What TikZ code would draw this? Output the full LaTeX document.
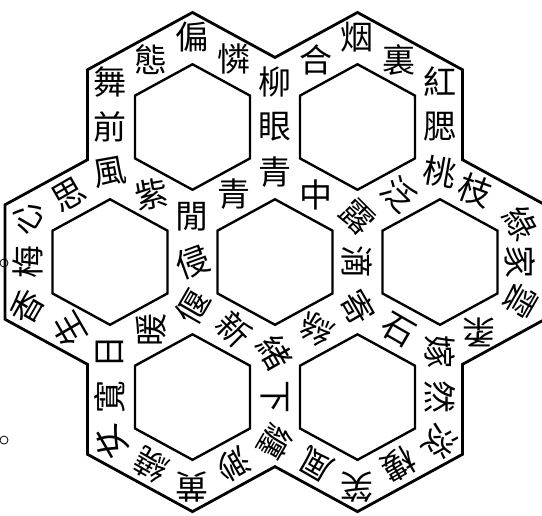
\documentclass[tikz,border=0pt]{standalone}
\usepackage{fontspec}
\newfontfamily\hanzi{Noto Sans CJK TC}
\usetikzlibrary{calc}

\begin{document}
\begin{tikzpicture}[x=.5pt,y=.4725pt,
    glyph/.style={font=\hanzi\fontsize{16.5}{16.5}\selectfont,inner sep=0pt},
    hole/.style={line width=1.2pt},
    rim/.style={line width=1.4pt}]
    \useasboundingbox (-275,-267.7) rectangle (267,277.3);

    % cell centres
    \coordinate (C) at (0,0);
    \coordinate (R) at (0:165);
    \coordinate (TR) at (60:165);
    \coordinate (TL) at (120:165);
    \coordinate (L) at (180:165);
    \coordinate (BL) at (240:165);
    \coordinate (BR) at (300:165);

    % outline of the seven cells
    \draw[rim] (-12.65:276.7) -- (12.65:276.7) -- (30:216.5)
      -- (47.35:276.7) -- (72.65:276.7) -- (90:216.5)
      -- (107.35:276.7) -- (132.65:276.7) -- (150:216.5)
      -- (167.35:276.7) -- (192.65:276.7) -- (210:216.5)
      -- (227.35:276.7) -- (252.65:276.7) -- (270:216.5)
      -- (287.35:276.7) -- (312.65:276.7) -- (330:216.5) -- cycle;

    \draw (-271,-1) circle[radius=2pt];
    \draw (-271,-188.4) circle[radius=2pt];

    \begin{scope}[shift={(TL)}]
      \draw[hole] (30:66.4) -- (90:66.4) -- (150:66.4) -- (210:66.4) -- (270:66.4) -- (330:66.4) -- cycle;
      \node[glyph] (wu3) at (150:95.3) {舞};
      \node[glyph] (qian2) at (180:82.5) {前};
      \node[glyph,rotate=10] (feng1) at (210:95.3) {風};
      \node[glyph,rotate=10] (zi3) at (240:82.5) {紫};
      \node[glyph] (xian2) at (270:95.3) {閒};
      \node[glyph] (qing1) at (300:82.5) {青};
      \node[glyph] (qing1b) at (330:95.3) {青};
      \node[glyph] (yan3) at (0:82.5) {眼};
      \node[glyph] (liu3) at (30:95.3) {柳};
      \node[glyph] (lian2) at (60:82.5) {憐};
      \node[glyph] (pian1) at (90:95.3) {偏};
      \node[glyph] (tai4) at (120:82.5) {態};
    \end{scope}

    \begin{scope}[shift={(TR)}]
      \draw[hole] (30:66.4) -- (90:66.4) -- (150:66.4) -- (210:66.4) -- (270:66.4) -- (330:66.4) -- cycle;
      \node[glyph] (he2) at (120:82.5) {合};
      \node[glyph] (yan1) at (90:95.3) {烟};
      \node[glyph] (li3) at (60:82.5) {裏};
      \node[glyph] (hong2) at (30:95.3) {紅};
      \node[glyph] (sai1) at (0:82.5) {腮};
      \node[glyph,rotate=-10] (tao2) at (330:95.3) {桃};
      \node[glyph,rotate=-45] (fan4) at (300:82.5) {泛};
      \node[glyph,rotate=-45] (lu4) at (270:95.3) {露};
      \node[glyph] (zhong1) at (240:82.5) {中};
    \end{scope}

    \begin{scope}[shift={(R)}]
      \draw[hole] (30:66.4) -- (90:66.4) -- (150:66.4) -- (210:66.4) -- (270:66.4) -- (330:66.4) -- cycle;
      \node[glyph,rotate=-20] (zhi1) at (65:84) {枝};
      \node[glyph,rotate=-60] (lv4) at (27:90) {綠};
      \node[glyph,rotate=-90] (jia1) at (0:80) {家};
      \node[glyph,rotate=-120] (yun2) at (333:90) {雲};
      \node[glyph,rotate=180] (rou2) at (298:84) {柔};
      \node[glyph,rotate=-90] (jia4) at (270:95.3) {嫁};
      \node[glyph,rotate=-30] (shi2) at (240:82.5) {石};
      \node[glyph,rotate=-60] (ji4) at (210:95.3) {寄};
      \node[glyph,rotate=-90] (di1) at (180:82.5) {滴};
    \end{scope}

    \begin{scope}[shift={(C)}]
      \draw[hole] (30:66.4) -- (90:66.4) -- (150:66.4) -- (210:66.4) -- (270:66.4) -- (330:66.4) -- cycle;
      \node[glyph,rotate=150] (si1) at (300:82.5) {絲};
      \node[glyph,rotate=-60] (xu4) at (270:95.3) {緒};
      \node[glyph,rotate=-45] (xin1) at (240:82.5) {新};
      \node[glyph,rotate=60] (yan3b) at (210:95.3) {偃};
      \node[glyph,rotate=20] (qin1) at (180:82.5) {侵};
    \end{scope}

    \begin{scope}[shift={(L)}]
      \draw[hole] (30:66.4) -- (90:66.4) -- (150:66.4) -- (210:66.4) -- (270:66.4) -- (330:66.4) -- cycle;
      \node[glyph,rotate=90] (nuan3) at (300:82.5) {暖};
      \node[glyph,rotate=90] (ri4) at (270:95.3) {日};
      \node[glyph,rotate=120] (sheng1) at (240:82.5) {生};
      \node[glyph,rotate=60] (xiang1) at (210:95.3) {香};
      \node[glyph,rotate=90] (mei2) at (180:82.5) {梅};
      \node[glyph,rotate=60] (xin1b) at (150:95.3) {心};
      \node[glyph,rotate=30] (si1b) at (120:82.5) {思};
    \end{scope}

    \begin{scope}[shift={(BL)}]
      \draw[hole] (30:66.4) -- (90:66.4) -- (150:66.4) -- (210:66.4) -- (270:66.4) -- (330:66.4) -- cycle;
      \node[glyph,rotate=90] (kuan1) at (180:82.5) {寬};
      \node[glyph,rotate=120] (nv3) at (210:95.3) {女};
      \node[glyph,rotate=150] (rao4) at (240:82.5) {繞};
      \node[glyph,rotate=180] (huang2) at (270:95.3) {黄};
      \node[glyph,rotate=-150] (miao3) at (300:82.5) {渺};
      \node[glyph,rotate=-120] (chan2) at (330:95.3) {纏};
      \node[glyph,rotate=-90] (xia4) at (0:82.5) {下};
    \end{scope}

    \begin{scope}[shift={(BR)}]
      \draw[hole] (30:66.4) -- (90:66.4) -- (150:66.4) -- (210:66.4) -- (270:66.4) -- (330:66.4) -- cycle;
      \node[glyph,rotate=-90] (ran2) at (0:82.5) {然};
      \node[glyph,rotate=-120] (dan4) at (330:95.3) {淡};
      \node[glyph,rotate=-150] (lou2) at (300:82.5) {樓};
      \node[glyph,rotate=180] (xiao4) at (270:95.3) {笑};
      \node[glyph,rotate=150] (feng1b) at (240:82.5) {風};
    \end{scope}
\end{tikzpicture}
\end{document}
